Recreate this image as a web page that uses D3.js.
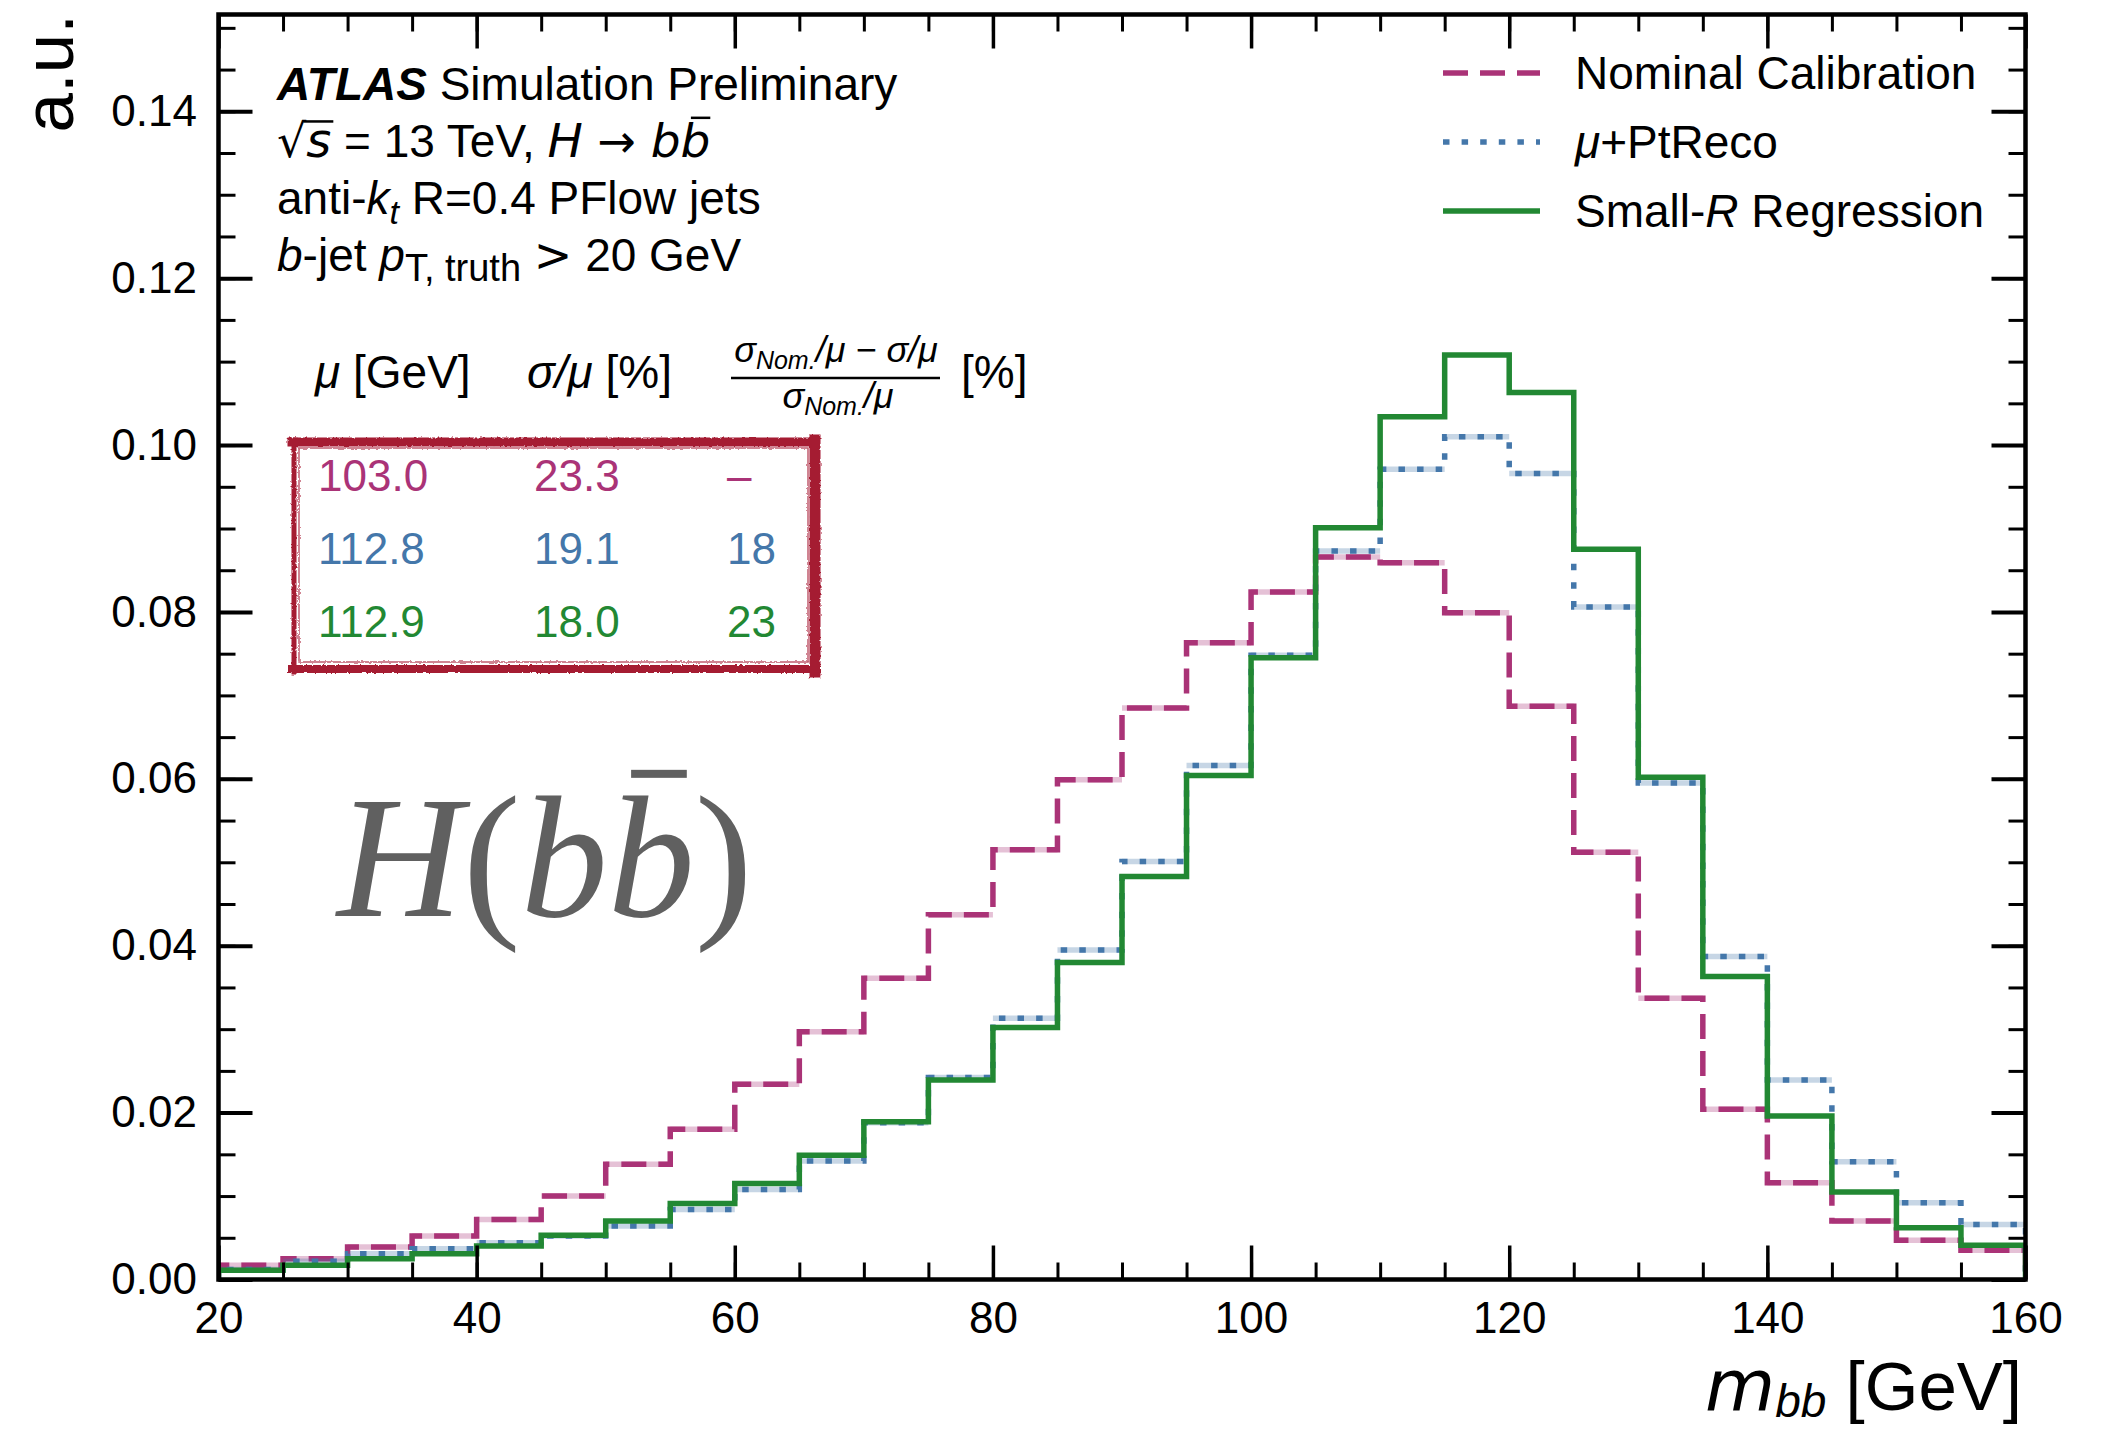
<!DOCTYPE html>
<html>
<head>
<meta charset="utf-8">
<script src="https://cdn.jsdelivr.net/npm/d3@7"></script>
<style>
  body { margin: 0; background: #fff; }
  svg { display: block; }
  text { font-family: "Liberation Sans", Arial, sans-serif; }
  .math { font-family: "DejaVu Sans", sans-serif; }
</style>
</head>
<body>
<svg id="chart"></svg>
<script>
// bin lower edges, 5 GeV wide, 20..160
const binEdges = d3.range(20, 165, 5);

const nominal = [0.0017, 0.0025, 0.0039, 0.0052, 0.0072, 0.0100, 0.0138, 0.0180, 0.0234, 0.0297,
                 0.0361, 0.0437, 0.0515, 0.0599, 0.0685, 0.0763, 0.0824, 0.0866, 0.0859, 0.0799,
                 0.0687, 0.0512, 0.0337, 0.0204, 0.0116, 0.0070, 0.0047, 0.0035];
const ptReco = [0.0012, 0.0022, 0.0031, 0.0037, 0.0044, 0.0052, 0.0064, 0.0084, 0.0108, 0.0142,
                0.0188, 0.0242, 0.0313, 0.0395, 0.0501, 0.0616, 0.0748, 0.0873, 0.0971, 0.1010,
                0.0966, 0.0806, 0.0595, 0.0387, 0.0239, 0.0141, 0.0092, 0.0066];
const regression = [0.0011, 0.0017, 0.0025, 0.0031, 0.0040, 0.0053, 0.0070, 0.0091, 0.0115, 0.0149,
                    0.0189, 0.0239, 0.0302, 0.0380, 0.0483, 0.0604, 0.0745, 0.0901, 0.1034, 0.1108,
                    0.1063, 0.0875, 0.0602, 0.0363, 0.0196, 0.0105, 0.0062, 0.0041];

const xTicks = [20, 40, 60, 80, 100, 120, 140, 160];
const yTicks = [0, 0.02, 0.04, 0.06, 0.08, 0.10, 0.12, 0.14];
const xMinorTicks = d3.range(20, 161, 5);
const yMinorTicks = d3.range(0, 0.151, 0.005);

const tableRows = [
  ["103.0", "23.3", "\u2013"],
  ["112.8", "19.1", "18"],
  ["112.9", "18.0", "23"]
];

const series = [
  { name: "nominal", values: nominal, color: "#AA3377", light: "rgba(170,51,119,0.3)", dash: "25,12" },
  { name: "ptreco", values: ptReco, color: "#4477AA", light: "rgba(68,119,170,0.3)", dash: "6.5,12.1" },
  { name: "regression", values: regression, color: "#228833", light: null, dash: null }
];

const W = 2101, H = 1429;
const svg = d3.select("#chart").attr("width", W).attr("height", H);

const x = d3.scaleLinear().domain([20, 160]).range([218.5, 2025.5]);
const y = d3.scaleLinear().domain([0, 0.1516]).range([1279.5, 14.5]);

// Filter for the rough hand-drawn box
const defs = svg.append("defs");
const rough = defs.append("filter").attr("id", "rough")
  .attr("x", "-5%").attr("y", "-5%").attr("width", "110%").attr("height", "110%");
rough.append("feTurbulence").attr("type", "fractalNoise").attr("baseFrequency", 0.35)
  .attr("numOctaves", 2).attr("seed", 3).attr("result", "noise");
rough.append("feDisplacementMap").attr("in", "SourceGraphic").attr("in2", "noise")
  .attr("scale", 3).attr("xChannelSelector", "R").attr("yChannelSelector", "G");

defs.append("clipPath").attr("id", "plotClip")
  .append("rect")
  .attr("x", x(20)).attr("y", y(0.1516))
  .attr("width", x(160) - x(20)).attr("height", y(0) - y(0.1516));

// Histograms
const histG = svg.append("g").attr("clip-path", "url(#plotClip)");

function stepPoints(values) {
  const pts = [[binEdges[0], 0]];
  values.forEach((v, i) => {
    pts.push([binEdges[i], v]);
    pts.push([binEdges[i + 1], v]);
  });
  pts.push([binEdges[values.length], 0]);
  return pts;
}

const line = d3.line().x(d => x(d[0])).y(d => y(d[1]));

series.forEach(s => {
  if (s.light) {
    histG.selectAll(null)
      .data(s.values)
      .enter()
      .append("line")
      .attr("x1", (d, i) => x(binEdges[i]))
      .attr("x2", (d, i) => x(binEdges[i + 1]))
      .attr("y1", d => y(d))
      .attr("y2", d => y(d))
      .attr("stroke", s.light)
      .attr("stroke-width", 5.5);
  }
  histG.append("path")
    .datum(stepPoints(s.values))
    .attr("d", line)
    .attr("fill", "none")
    .attr("stroke", s.color)
    .attr("stroke-width", 5.5)
    .attr("stroke-dasharray", s.dash)
    .attr("stroke-linejoin", "miter");
});

// Axes: ticks pointing in, on all four sides
const tickFont = 44;
function styleAxis(g) {
  g.select(".domain").remove();
  g.selectAll(".tick line").attr("stroke", "#000");
  g.selectAll(".tick text").attr("font-size", tickFont).attr("fill", "#000");
}

svg.append("g").attr("transform", `translate(0,${y(0)})`)
  .call(d3.axisBottom(x).tickValues(xMinorTicks).tickFormat("").tickSize(-17))
  .call(styleAxis).selectAll(".tick line").attr("stroke-width", 3);
svg.append("g").attr("transform", `translate(0,${y(0)})`)
  .call(d3.axisBottom(x).tickValues(xTicks).tickFormat(d3.format("d")).tickSize(-34).tickPadding(22))
  .call(styleAxis).selectAll(".tick line").attr("stroke-width", 3.5);

svg.append("g").attr("transform", `translate(0,${y(0.1516)})`)
  .call(d3.axisTop(x).tickValues(xMinorTicks).tickFormat("").tickSize(-17))
  .call(styleAxis).selectAll(".tick line").attr("stroke-width", 3);
svg.append("g").attr("transform", `translate(0,${y(0.1516)})`)
  .call(d3.axisTop(x).tickValues(xTicks).tickFormat("").tickSize(-34))
  .call(styleAxis).selectAll(".tick line").attr("stroke-width", 3.5);

svg.append("g").attr("transform", `translate(${x(20)},0)`)
  .call(d3.axisLeft(y).tickValues(yMinorTicks).tickFormat("").tickSize(-17))
  .call(styleAxis).selectAll(".tick line").attr("stroke-width", 3);
svg.append("g").attr("transform", `translate(${x(20)},0)`)
  .call(d3.axisLeft(y).tickValues(yTicks).tickFormat(d3.format(".2f")).tickSize(-34).tickPadding(21.5))
  .call(styleAxis).selectAll(".tick line").attr("stroke-width", 4);

svg.append("g").attr("transform", `translate(${x(160)},0)`)
  .call(d3.axisRight(y).tickValues(yMinorTicks).tickFormat("").tickSize(-17))
  .call(styleAxis).selectAll(".tick line").attr("stroke-width", 3);
svg.append("g").attr("transform", `translate(${x(160)},0)`)
  .call(d3.axisRight(y).tickValues(yTicks).tickFormat("").tickSize(-34))
  .call(styleAxis).selectAll(".tick line").attr("stroke-width", 4);

// Frame
svg.append("rect")
  .attr("x", x(20)).attr("y", y(0.1516))
  .attr("width", x(160) - x(20)).attr("height", y(0) - y(0.1516))
  .attr("fill", "none").attr("stroke", "#000").attr("stroke-width", 4.5);

// Axis labels
const xLab = svg.append("text").attr("x", 2022).attr("y", 1410)
  .attr("text-anchor", "end").attr("font-size", 69);
xLab.append("tspan").attr("class", "math").attr("font-style", "italic").attr("font-size", 72).text("m");
xLab.append("tspan").attr("font-style", "italic").attr("font-size", 46).attr("dy", 7).text("bb");
xLab.append("tspan").attr("dy", -7).text(" [GeV]");

svg.append("text")
  .attr("transform", "translate(73,14) rotate(-90)")
  .attr("text-anchor", "end").attr("font-size", 71)
  .text("a.u.");

// helper: add overline above a character of a text element
function overline(textSel, idx, opts) {
  const node = textSel.node();
  const ext = node.getExtentOfChar(idx);
  const fs = opts.fontSize;
  svg.append("rect")
    .attr("x", ext.x + ext.width * opts.from)
    .attr("width", ext.width * (opts.to - opts.from))
    .attr("y", opts.baseline - fs * opts.top)
    .attr("height", opts.thick)
    .attr("fill", opts.color || "#000");
}

// ATLAS label block
const lx = 277, lfs = 46;
const t1 = svg.append("text").attr("x", lx).attr("y", 100).attr("font-size", lfs);
t1.append("tspan").attr("font-weight", "bold").attr("font-style", "italic").text("ATLAS");
t1.append("tspan").text(" Simulation Preliminary");

const t2 = svg.append("text").attr("x", lx).attr("y", 157).attr("font-size", lfs);
t2.append("tspan").attr("class", "math").attr("font-size", 46).text("\u221A");
t2.append("tspan").attr("class", "math").attr("font-style", "italic").attr("font-size", 48).text("s");
t2.append("tspan").text(" = 13 TeV, ");
t2.append("tspan").attr("class", "math").attr("font-style", "italic").attr("font-size", 47).text("H");
t2.append("tspan").attr("class", "math").attr("font-size", 46).text(" \u2192 ");
t2.append("tspan").attr("class", "math").attr("font-style", "italic").attr("font-size", 47).text("bb");

const t3 = svg.append("text").attr("x", lx).attr("y", 214).attr("font-size", lfs);
t3.append("tspan").text("anti-");
t3.append("tspan").attr("font-style", "italic").text("k");
t3.append("tspan").attr("font-style", "italic").attr("font-size", 34).attr("dy", 10).text("t");
t3.append("tspan").attr("dy", -10).text(" R=0.4 PFlow jets");

const t4 = svg.append("text").attr("x", lx).attr("y", 271).attr("font-size", lfs);
t4.append("tspan").attr("font-style", "italic").text("b");
t4.append("tspan").text("-jet ");
t4.append("tspan").attr("font-style", "italic").text("p");
t4.append("tspan").attr("font-size", 38).attr("dy", 10).text("T, truth");
t4.append("tspan").attr("dy", -10).text(" ");
t4.append("tspan").attr("class", "math").attr("font-size", 46).text(">");
t4.append("tspan").text(" 20 GeV");

// overline for sqrt(s) and b-bar
{
  const sq = t2.node().getExtentOfChar(0);
  const s = t2.node().getExtentOfChar(1);
  svg.append("rect").attr("x", sq.x + sq.width - 3).attr("y", 157 - 0.8 * lfs)
    .attr("width", s.x + s.width - (sq.x + sq.width - 3) + 2).attr("height", 2.5).attr("fill", "#000");
  const n = t2.node().getNumberOfChars();
  overline(t2, n - 1, { fontSize: 47, baseline: 157, top: 0.86, thick: 2.5, from: 0.35, to: 1.0 });
}

// Legend
const legendRows = [
  { s: series[0], y: 73, label: [["Nominal Calibration", null]] },
  { s: series[1], y: 142, label: [["\u03BC", "italic"], ["+PtReco", null]] },
  { s: series[2], y: 211, label: [["Small-", null], ["R", "italic"], [" Regression", null]] }
];
legendRows.forEach(r => {
  svg.append("line")
    .attr("x1", 1443).attr("x2", 1540).attr("y1", r.y).attr("y2", r.y)
    .attr("stroke", r.s.color).attr("stroke-width", 5.5)
    .attr("stroke-dasharray", r.s.dash);
  const t = svg.append("text").attr("x", 1575).attr("y", r.y + 16).attr("font-size", 46);
  r.label.forEach(([txt, st]) => {
    const ts = t.append("tspan").text(txt);
    if (st) ts.attr("font-style", st);
  });
});

// Table header
const hfs = 46;
const h1 = svg.append("text").attr("x", 315).attr("y", 388).attr("font-size", hfs);
h1.append("tspan").attr("font-style", "italic").text("\u03BC");
h1.append("tspan").text(" [GeV]");

const h2 = svg.append("text").attr("x", 527).attr("y", 388).attr("font-size", hfs);
h2.append("tspan").attr("font-style", "italic").text("\u03C3/\u03BC");
h2.append("tspan").text(" [%]");

const ffs = 36, fsub = 25;
const num = svg.append("text").attr("x", 836).attr("y", 362).attr("font-size", ffs)
  .attr("text-anchor", "middle").attr("font-style", "italic");
num.append("tspan").text("\u03C3");
num.append("tspan").attr("font-size", fsub).attr("dy", 7).text("Nom.");
num.append("tspan").attr("dy", -7).text("/\u03BC \u2212 \u03C3/\u03BC");

svg.append("line").attr("x1", 731).attr("x2", 940).attr("y1", 378).attr("y2", 378)
  .attr("stroke", "#000").attr("stroke-width", 2.5);

const den = svg.append("text").attr("x", 838).attr("y", 408).attr("font-size", ffs)
  .attr("text-anchor", "middle").attr("font-style", "italic");
den.append("tspan").text("\u03C3");
den.append("tspan").attr("font-size", fsub).attr("dy", 7).text("Nom.");
den.append("tspan").attr("dy", -7).text("/\u03BC");

svg.append("text").attr("x", 961).attr("y", 388).attr("font-size", hfs).text("[%]");

// Table box (rough red frame)
const boxG = svg.append("g").attr("filter", "url(#rough)");
const boxColor = "#A51A32";
[
  [292, 442, 815, 442, 9],
  [815, 440, 815, 672, 11],
  [292, 669, 817, 669, 8],
  [294, 440, 294, 672, 5]
].forEach(([x1, y1, x2, y2, w]) => {
  boxG.append("line").attr("x1", x1).attr("y1", y1).attr("x2", x2).attr("y2", y2)
    .attr("stroke", boxColor).attr("stroke-width", w).attr("stroke-linecap", "square");
});
boxG.append("rect").attr("x", 299).attr("y", 448).attr("width", 509).attr("height", 214)
  .attr("fill", "none").attr("stroke", boxColor).attr("stroke-width", 1.5).attr("opacity", 0.7);

// Table values
const colX = [318, 534, 727];
const rowY = [491, 564, 637];
const rowColors = [series[0].color, series[1].color, series[2].color];
tableRows.forEach((row, i) => {
  row.forEach((val, j) => {
    svg.append("text")
      .attr("x", colX[j]).attr("y", rowY[i])
      .attr("font-size", 44).attr("fill", rowColors[i])
      .text(val);
  });
});

// Big H(bb) label
const bigFs = 174;
const big = svg.append("text").attr("x", 337).attr("y", 916)
  .style("font-family", "'Liberation Serif', 'Times New Roman', serif")
  .attr("font-size", bigFs).attr("fill", "#606060");
big.append("tspan").attr("font-style", "italic").text("H");
big.append("tspan").text("(");
big.append("tspan").attr("font-style", "italic").text("bb");
big.append("tspan").text(")");
overline(big, 3, { fontSize: bigFs, baseline: 916, top: 0.84, thick: 8, from: 0.27, to: 0.91, color: "#606060" });
</script>
</body>
</html>
